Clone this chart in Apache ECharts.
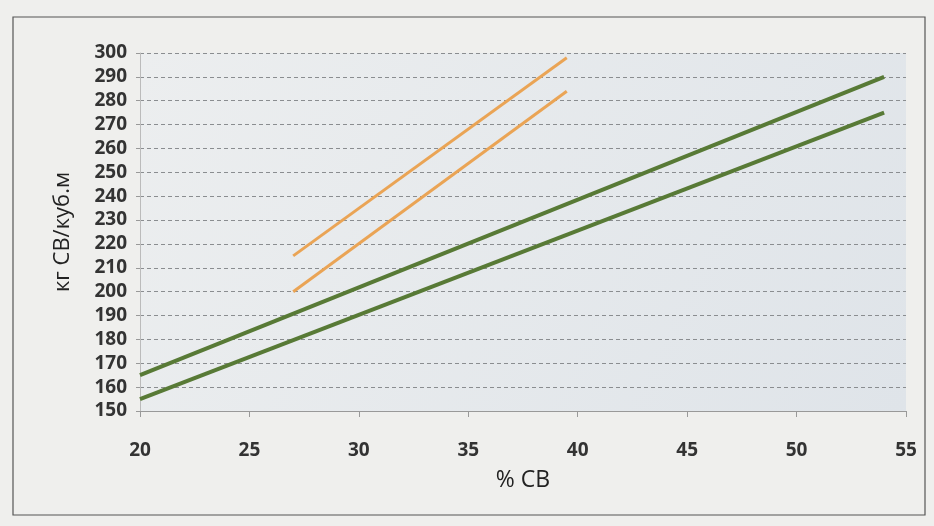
<!DOCTYPE html>
<html>
<head>
<meta charset="utf-8">
<script src="https://cdn.jsdelivr.net/npm/echarts@6/dist/echarts.min.js"></script>
<style>
html,body{margin:0;padding:0;background:#efefed;}
#c{width:934px;height:526px;}
</style>
</head>
<body>
<div id="c"></div>
<script>
const xTicks = [20, 25, 30, 35, 40, 45, 50, 55];
const yTicks = [150, 160, 170, 180, 190, 200, 210, 220, 230, 240, 250, 260, 270, 280, 290, 300];
const xGreen = [20, 54];
const greenUpper = [165, 290];
const greenLower = [155, 275];
const xOrange = [27, 39.5];
const orangeUpper = [215, 298];
const orangeLower = [200, 284];

function pairs(xs, ys) { return xs.map((x, i) => [x, ys[i]]); }

const chart = echarts.init(document.getElementById('c'));
chart.setOption({
  backgroundColor: '#efefed',
  animation: false,
  graphic: [{
    type: 'rect',
    shape: { x: 13, y: 17, width: 912, height: 498 },
    style: { fill: 'none', stroke: '#555', lineWidth: 1.2 },
    z: -1
  }],
  grid: {
    left: 140, right: 28, top: 53, bottom: 115,
    show: true,
    backgroundColor: {
      type: 'linear', x: 0, y: 0, x2: 1, y2: 1,
      colorStops: [{ offset: 0, color: '#eceeef' }, { offset: 1, color: '#dfe4e9' }]
    },
    borderWidth: 0
  },
  xAxis: {
    type: 'value',
    min: xTicks[0], max: xTicks[xTicks.length - 1], interval: 5,
    name: '% СВ',
    nameLocation: 'middle',
    nameGap: 58,
    nameTextStyle: { fontFamily: 'Open Sans', fontSize: 23, color: '#222' },
    axisLine: { show: true, lineStyle: { color: '#999', width: 1 } },
    axisTick: { show: true, length: 6, lineStyle: { color: '#999' } },
    axisLabel: { margin: 30, fontFamily: 'Open Sans', fontWeight: 'bold', fontSize: 19, color: '#333' },
    splitLine: { show: false }
  },
  yAxis: {
    type: 'value',
    min: yTicks[0], max: yTicks[yTicks.length - 1], interval: 10,
    name: 'кг СВ/куб.м',
    nameLocation: 'middle',
    nameGap: 66,
    nameTextStyle: { fontFamily: 'Open Sans', fontSize: 22, color: '#222' },
    axisLine: { show: true, lineStyle: { color: '#bbb', width: 1 } },
    axisTick: { show: true, length: 6, lineStyle: { color: '#999', type: 'dashed' } },
    axisLabel: { margin: 13, fontFamily: 'Open Sans', fontWeight: 'bold', fontSize: 19, color: '#333' },
    splitLine: { show: true, lineStyle: { color: '#8a8d90', type: [4, 3], width: 1 } }
  },
  series: [
    { type: 'line', data: pairs(xGreen, greenUpper), symbol: 'none', lineStyle: { color: '#587a36', width: 4 } },
    { type: 'line', data: pairs(xGreen, greenLower), symbol: 'none', lineStyle: { color: '#587a36', width: 4 } },
    { type: 'line', data: pairs(xOrange, orangeUpper), symbol: 'none', lineStyle: { color: '#eaa455', width: 3 } },
    { type: 'line', data: pairs(xOrange, orangeLower), symbol: 'none', lineStyle: { color: '#eaa455', width: 3 } }
  ]
});
</script>
</body>
</html>
